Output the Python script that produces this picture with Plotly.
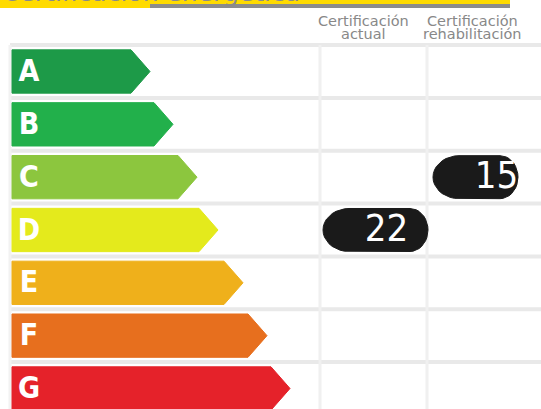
import math
import plotly.graph_objects as go

# ---- data ----
classes = ["A", "B", "C", "D", "E", "F", "G"]
arrow_len = [150, 173, 197, 218, 243, 267, 290]          # arrow tip per class
class_colors = ["#1d9a48", "#22b04b", "#8cc63e", "#e4ea1c", "#efb01b", "#e76f1e", "#e5222a"]
col_headers = [["Certificación", "actual"], ["Certificación", "rehabilitación"]]
ratings = ["D", "C"]          # actual, rehabilitación
rating_values = [22, 15]
title_text = "Certificación energética"

# ---- styling constants ----
W, H = 541, 409
ROW0_PX, ROW_PX = 71.5, 52.83
Y_TOP = -ROW0_PX / ROW_PX
Y_BOT = (H - ROW0_PX) / ROW_PX
X0 = 12
TIP = 19
HALF = 0.41
col_centers = [375.5, 475.5]
badge_w = [105, 85]
badge_text_dx = [11, 21]
col_lines = [320, 427]

fig = go.Figure()

# arrows
for i, (c, L, col) in enumerate(zip(classes, arrow_len, class_colors)):
    xs = [X0, L - TIP, L, L - TIP, X0, X0]
    ys = [i - HALF, i - HALF, i, i + HALF, i + HALF, i - HALF]
    fig.add_trace(go.Scatter(x=xs, y=ys, fill="toself", fillcolor=col,
                             line=dict(color=col, width=1), mode="lines",
                             hoverinfo="skip", showlegend=False))
fig.add_trace(go.Scatter(x=[29] * len(classes), y=[k + 0.04 for k in range(len(classes))],
                         text=classes, mode="text",
                         textfont=dict(family="DejaVu Sans Condensed, DejaVu Sans, sans-serif",
                                       size=30, color="white", weight="bold"),
                         hoverinfo="skip", showlegend=False))

# grid
shapes = []
for k in range(len(classes)):
    shapes.append(dict(type="line", xref="x", yref="y", x0=10, x1=W,
                       y0=k - 0.5, y1=k - 0.5, line=dict(color="#e9e9e9", width=4), layer="below"))
for xv in col_lines:
    shapes.append(dict(type="line", xref="x", yref="y", x0=xv, x1=xv,
                       y0=-0.5, y1=len(classes) + 0.5, line=dict(color="#f0f0f0", width=3), layer="below"))
shapes.append(dict(type="line", xref="x", yref="y", x0=10, x1=10,
                   y0=-0.5, y1=len(classes) + 0.5, line=dict(color="#f2f2f2", width=3), layer="below"))

# title band
shapes.append(dict(type="rect", xref="paper", yref="paper", x0=0, x1=510 / W, y0=1, y1=1 - 8 / H,
                   fillcolor="#ffdb00", line=dict(width=0), layer="below"))
shapes.append(dict(type="rect", xref="paper", yref="paper", x0=150 / W, x1=510 / W, y0=1 - 4 / H, y1=1 - 8 / H,
                   fillcolor="#8c8c8c", line=dict(width=0), layer="above"))
fig.update_layout(shapes=shapes)

# badges
for j, (r, v) in enumerate(zip(ratings, rating_values)):
    row = classes.index(r)
    cx = col_centers[j]
    w = badge_w[j]
    hpx = 21.5
    left, right = cx - w / 2, cx + w / 2
    rxl, rxr = 26, 18
    xs, ys = [], []
    for t in range(0, 181, 10):  # right end
        a = math.radians(-90 + t)
        xs.append(right - rxr + rxr * math.cos(a)); ys.append(row + hpx * math.sin(a) / ROW_PX)
    for t in range(0, 181, 10):  # left end
        a = math.radians(90 + t)
        xs.append(left + rxl + rxl * math.cos(a)); ys.append(row + hpx * math.sin(a) / ROW_PX)
    xs.append(xs[0]); ys.append(ys[0])
    fig.add_trace(go.Scatter(x=xs, y=ys, fill="toself", fillcolor="#1a1a1a",
                             line=dict(color="#1a1a1a", width=1), mode="lines",
                             hoverinfo="skip", showlegend=False))
    fig.add_trace(go.Scatter(x=[cx + badge_text_dx[j]], y=[row + 0.02], text=[str(v)], mode="text",
                             textfont=dict(family="DejaVu Sans Condensed, DejaVu Sans, sans-serif",
                                           size=38, color="white"),
                             hoverinfo="skip", showlegend=False))

# headers
anns = []
hdr_cx = [363, 472]
for j, (l1, l2) in enumerate(col_headers):
    anns.append(dict(x=hdr_cx[j] / W, y=1 - 21 / H, xref="paper", yref="paper", text=l1, showarrow=False,
                     xanchor="center", yanchor="middle",
                     font=dict(family="DejaVu Sans, sans-serif", size=14.5, color="#888888")))
    anns.append(dict(x=hdr_cx[j] / W, y=1 - 33.5 / H, xref="paper", yref="paper", text=l2, showarrow=False,
                     xanchor="center", yanchor="middle",
                     font=dict(family="DejaVu Sans, sans-serif", size=14.5, color="#888888")))
anns.append(dict(x=0, y=1 - 9 / H, xref="paper", yref="paper", text=title_text, showarrow=False,
                 xanchor="left", yanchor="bottom",
                 font=dict(family="DejaVu Sans, sans-serif", size=25, color="#8a8a8a")))

fig.update_layout(
    annotations=anns,
    width=W, height=H, margin=dict(l=0, r=0, t=0, b=0),
    paper_bgcolor="white", plot_bgcolor="white",
    xaxis=dict(range=[0, W], visible=False, fixedrange=True),
    yaxis=dict(range=[Y_BOT, Y_TOP], visible=False, fixedrange=True),
    showlegend=False,
)
fig.write_html("out.html", config={"displayModeBar": False},
               post_script="document.body.style.margin='0';document.body.style.overflow='hidden';")
